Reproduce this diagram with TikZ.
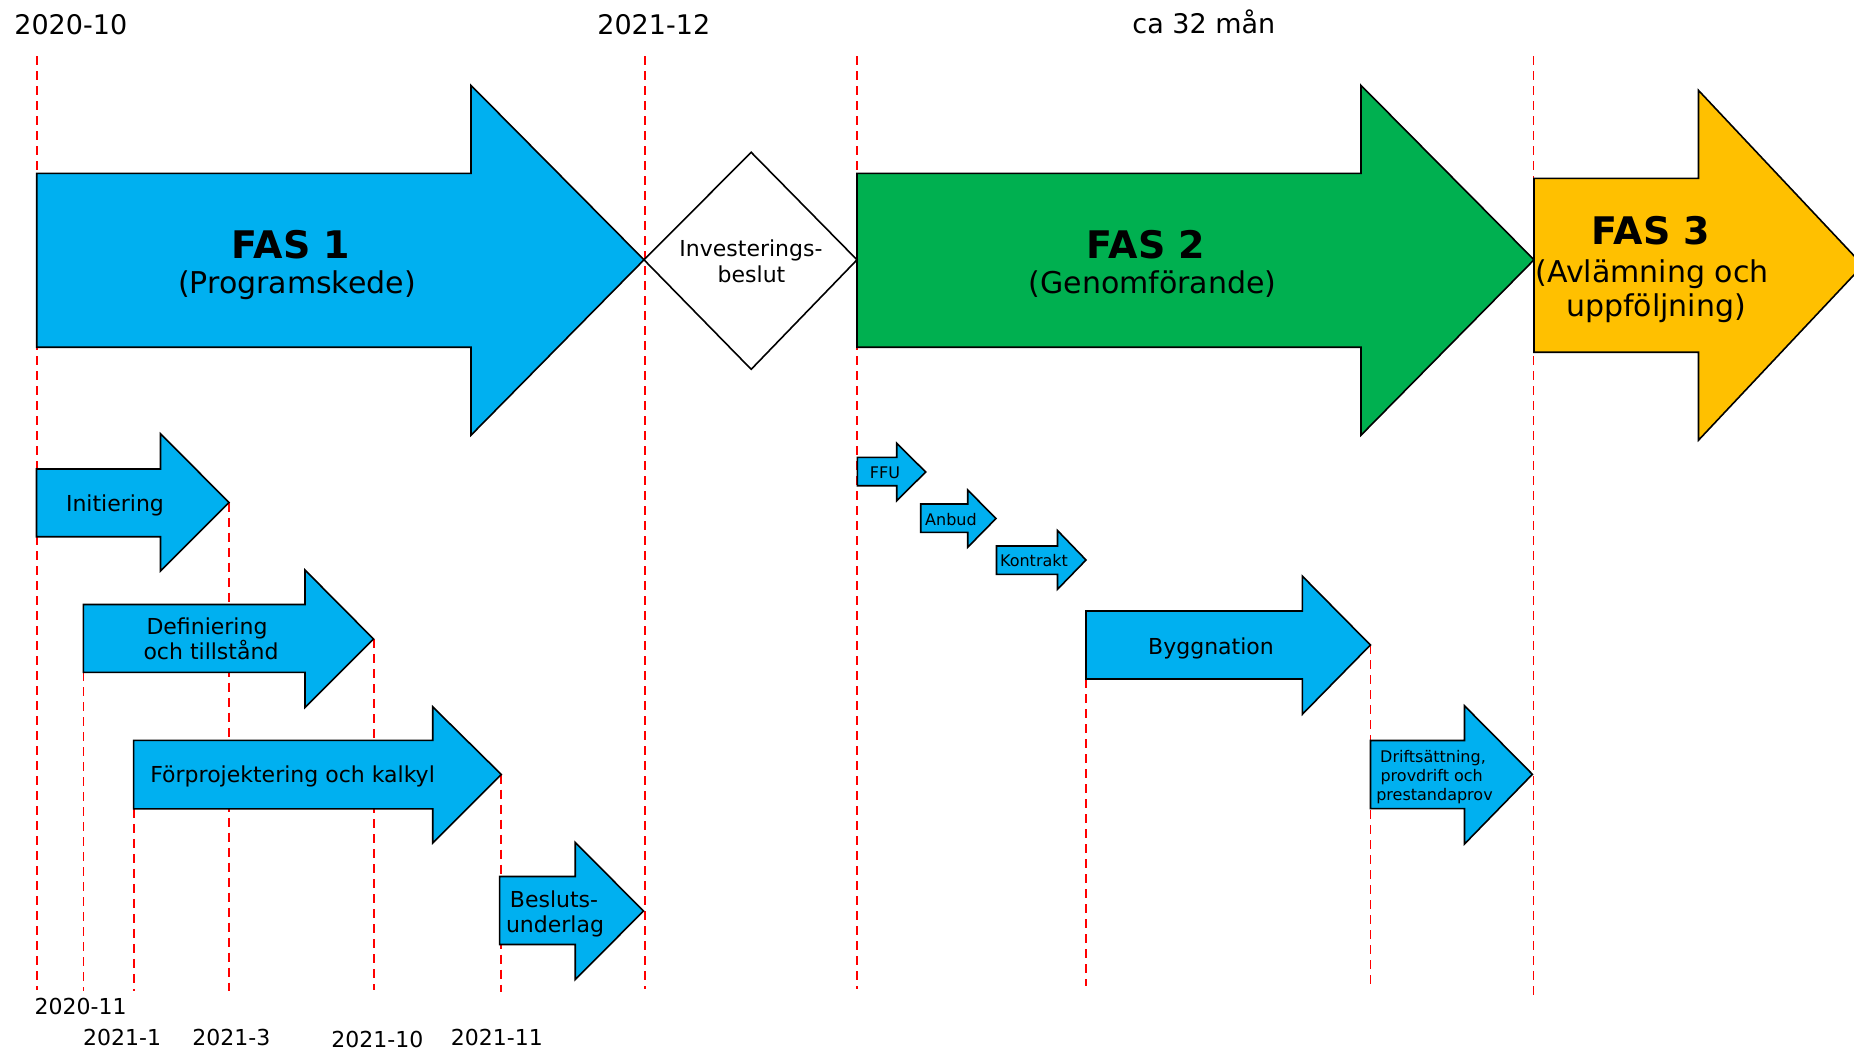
\documentclass[tikz,border=0pt]{standalone}
\usepackage{fontspec}
\setmainfont{DejaVu Sans}
\definecolor{fasblue}{HTML}{00B0F0}
\definecolor{fasgreen}{HTML}{00B050}
\definecolor{fasyellow}{HTML}{FFC000}
\definecolor{guidered}{HTML}{FF0000}
\newcommand\phasearrow[9]{%
  \path[arrowshape,fill=#1] (#2,#3) -- (#5,#3) -- (#5,#6) -- (#8,#9) -- (#5,#7) -- (#5,#4) -- (#2,#4) -- cycle;}
\tikzset{
  arrowshape/.style={draw=black,line width=0.8pt,line join=miter},
  guide/.style={draw=guidered,line width=0.9pt,dash pattern=on 4.5pt off 3pt},
  lbl/.style={inner sep=0pt,anchor=base,text=black},
  datebig/.style={inner sep=0pt,anchor=base west,font=\fontsize{13.5pt}{15pt}\selectfont},
  datesmall/.style={inner sep=0pt,anchor=base west,font=\fontsize{11pt}{13pt}\selectfont},
  fastitle/.style={lbl,font=\fontsize{19pt}{21pt}\selectfont\bfseries},
  fassub/.style={lbl,font=\fontsize{15pt}{17pt}\selectfont},
  midtxt/.style={lbl,font=\fontsize{11pt}{13pt}\selectfont},
  smalltxt/.style={lbl,font=\fontsize{8pt}{9.5pt}\selectfont}
}
\begin{document}
\begin{tikzpicture}[x=0.5pt,y=-0.5pt]
\useasboundingbox (0,0) rectangle (1854,1050);
% named coordinates for guide lines
\coordinate (g1t) at (36.7,56);   \coordinate (g1b) at (36.7,990);
\coordinate (g2t) at (83.4,672.3); \coordinate (g2b) at (83.4,991);
\coordinate (g3t) at (133.6,808.9); \coordinate (g3b) at (133.6,991);
\coordinate (g4t) at (229,502.5); \coordinate (g4b) at (229,991);
\coordinate (g5t) at (373.8,639); \coordinate (g5b) at (373.8,990);
\coordinate (g6t) at (501.3,774.5); \coordinate (g6b) at (501.3,992);
\coordinate (g7t) at (645,56);   \coordinate (g7b) at (645,989);
\coordinate (g8t) at (857,56);   \coordinate (g8b) at (857,989);
\coordinate (g9t) at (1086,679); \coordinate (g9b) at (1086,986);
\coordinate (g10t) at (1370.4,645); \coordinate (g10b) at (1370.4,990);
\coordinate (g11t) at (1533.5,56); \coordinate (g11b) at (1533.5,1000);
\foreach \i in {1,...,11} {\draw[guide] (g\i t) -- (g\i b);}
% phase arrows
\phasearrow{fasblue}{36.7}{173.4}{347.2}{471}{85.4}{435.2}{644}{259.8}
\phasearrow{fasgreen}{857}{173.4}{347.2}{1361}{85.4}{435.2}{1534}{259.8}
\phasearrow{fasyellow}{1534}{178.4}{352.2}{1698.5}{90.4}{440.2}{1863}{265.3}
% decision diamond
\path[arrowshape,fill=white] (644,259.8) -- (751.2,152.3) -- (857,259.8) -- (751.2,369.3) -- cycle;
% step arrows
\phasearrow{fasblue}{36.5}{469}{536.7}{160.5}{433.7}{571}{229}{502.5}
\phasearrow{fasblue}{83.4}{604.5}{672.3}{305}{570}{707.5}{373.5}{639}
\phasearrow{fasblue}{133.6}{740.3}{808.9}{432.7}{706.8}{843}{501.3}{774.5}
\phasearrow{fasblue}{499.6}{876.5}{944.5}{575.2}{842.4}{979.6}{643.5}{911}
\phasearrow{fasblue}{857.3}{457.3}{485.7}{896.7}{443.3}{500.7}{925.7}{472}
\phasearrow{fasblue}{920.7}{504}{532.3}{967.7}{490}{547.3}{996}{518.5}
\phasearrow{fasblue}{996.5}{546}{574.3}{1057.5}{530.5}{589.3}{1086}{560}
\phasearrow{fasblue}{1086}{611}{679}{1302.4}{576.2}{714.2}{1370.4}{645}
\phasearrow{fasblue}{1370.5}{740.5}{808.6}{1464.5}{705.8}{844}{1532.4}{774.3}
% top dates
\node[datebig] (d1) at (14,34) {2020-10};
\node[datebig] (d2) at (597,34) {2021-12};
\node[datebig] (d3) at (1132,33) {ca 32 mån};
% phase texts
\node[fastitle] (f1) at (291,258) {FAS 1};
\node[fassub] (f1s) at (297,293) {(Programskede)};
\node[fastitle] (f2) at (1146,258) {FAS 2};
\node[fassub] (f2s) at (1152.6,293) {(Genomförande)};
\node[fastitle] (f3) at (1651,244) {FAS 3};
\node[fassub] (f3s) at (1652,282) {(Avlämning och};
\node[fassub] (f3t) at (1656,316) {uppföljning)};
\node[midtxt] (inv1) at (751,256) {Investerings-};
\node[midtxt] (inv2) at (751.5,282.5) {beslut};
% step texts
\node[midtxt] (s1) at (115,511.7) {Initiering};
\node[midtxt] (s2a) at (207,634) {Definiering};
\node[midtxt] (s2b) at (211,659) {och tillstånd};
\node[midtxt] (s3) at (292.6,782) {Förprojektering och kalkyl};
\node[midtxt] (s4a) at (554,907) {Besluts-};
\node[midtxt] (s4b) at (555,932) {underlag};
\node[smalltxt] (s5) at (885,478) {FFU};
\node[smalltxt] (s6) at (951,525) {Anbud};
\node[smalltxt] (s7) at (1034,566.5) {Kontrakt};
\node[midtxt] (s8) at (1211,654) {Byggnation};
\node[smalltxt] (s9a) at (1433,762.3) {Driftsättning,};
\node[smalltxt] (s9b) at (1431.7,781) {provdrift och};
\node[smalltxt] (s9c) at (1434.5,800) {prestandaprov};
% bottom dates
\node[datesmall] (b1) at (34.3,1014) {2020-11};
\node[datesmall] (b2) at (82.8,1045) {2021-1};
\node[datesmall] (b3) at (192,1045) {2021-3};
\node[datesmall] (b4) at (331,1047) {2021-10};
\node[datesmall] (b5) at (450.5,1045) {2021-11};
\end{tikzpicture}
\end{document}
